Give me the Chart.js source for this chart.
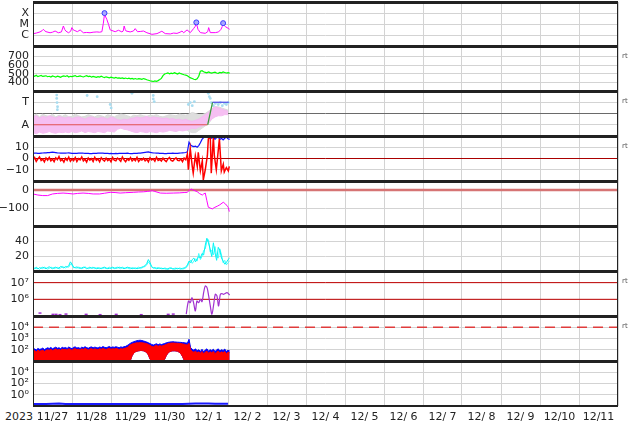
<!DOCTYPE html>
<html>
<head>
<meta charset="utf-8">
<script src="https://cdn.jsdelivr.net/npm/chart.js@4.4.0/dist/chart.umd.min.js"></script>
<style>
  body { margin: 0; width: 634px; height: 424px; position: relative; overflow: hidden; background: #fff; font-family: 'DejaVu Sans', sans-serif; }
  canvas { position: absolute; left: 0; }
  .rt { position: absolute; left: 622px; font-size: 7px; line-height: 8px; color: #555; }
  #year { position: absolute; left: 5px; top: 411px; font-size: 11px; line-height: 12px; color: #222; }
</style>
</head>
<body>
<span id="year">2023</span>
<script>
// time axis: hours since 2023-11-27 00:00 UT
const DAY_LABELS = ['11/27', '11/28', '11/29', '11/30', '12/ 1', '12/ 2', '12/ 3', '12/ 4',
  '12/ 5', '12/ 6', '12/ 7', '12/ 8', '12/ 9', '12/10', '12/11'];
const HOURS = Array.from({length: 122}, (_, i) => i);
const HOURS2 = Array.from({length: 61}, (_, i) => i * 2);

// panel 1 - x-ray flux
const XRAY_T = [0, 2, 4.3, 5.5, 6.4, 7.2, 8, 10.5, 12, 13.6,
  15.6, 17.5, 18.7, 19.5, 20.2, 21.8, 23.2, 23.9, 24.6, 25.3,
  27.3, 29, 31, 33, 35.1, 37, 39.3, 41, 42.4, 43.3,
  44, 44.4, 45.4, 46.5, 47.5, 50.6, 52.6, 54.7, 55.5, 56.1,
  56.8, 57.3, 59.8, 61.8, 62.9, 64.3, 66, 68, 70.1, 73.2,
  76.3, 79.3, 81.4, 84.5, 86.5, 88.6, 90.5, 91.7, 92.7, 94.8,
  96.8, 98.8, 99.8, 100.5, 101.5, 103, 106, 107.5, 108.1, 109.1,
  112.2, 114.2, 115.7, 116.5, 117, 118.4, 120.4, 121];
const XRAY_V = [1.3e-6, 1.5e-6, 1.9e-6, 2.4e-6, 3.3e-6, 2.4e-6, 2.0e-6, 1.6e-6, 1.8e-6, 2.3e-6,
  1.6e-6, 1.9e-6, 6.6e-6, 3.2e-6, 2.3e-6, 1.6e-6, 2.2e-6, 4.7e-6, 3.1e-6, 2.7e-6,
  2.0e-6, 2.9e-6, 1.6e-6, 1.7e-6, 1.6e-6, 1.8e-6, 1.9e-6, 1.8e-6, 2.0e-6, 1.2e-5,
  8.0e-5, 5.5e-5, 2.7e-5, 9e-6, 2.9e-6, 2.0e-6, 2.7e-6, 1.9e-6, 2.3e-6, 6.6e-6,
  3.0e-6, 2.3e-6, 1.9e-6, 2.3e-6, 3.8e-6, 2.0e-6, 2.1e-6, 2.3e-6, 1.6e-6, 1.15e-6,
  1.33e-6, 2.2e-6, 1.33e-6, 1.25e-6, 1.5e-6, 1.4e-6, 1.8e-6, 2.3e-6, 1.6e-6, 2.9e-6,
  1.64e-6, 3.8e-6, 6e-6, 1.3e-5, 3.3e-6, 1.64e-6, 1.42e-6, 2.0e-6, 4.7e-6, 1.64e-6,
  1.64e-6, 1.9e-6, 3.3e-6, 6e-6, 9.3e-6, 5.7e-6, 3.8e-6, 3.3e-6];
const FLARE_T = [44, 100.5, 117];
const FLARE_V = [9.8e-5, 1.4e-5, 1.2e-5];

// panel 2 - solar wind speed (hourly)
const WIND = [478, 470, 482, 466, 474, 480, 468, 472, 476, 465,
  470, 462, 474, 468, 460, 471, 466, 458, 470, 474,
  468, 476, 462, 470, 466, 472, 478, 465, 470, 474,
  468, 462, 470, 476, 466, 472, 460, 468, 464, 458,
  466, 460, 470, 462, 456, 464, 458, 452, 460, 454,
  450, 456, 448, 452, 446, 452, 444, 450, 442, 448,
  440, 446, 438, 444, 436, 442, 440, 434, 444, 438,
  430, 424, 418, 414, 410, 416, 412, 420, 432, 446,
  478, 496, 502, 510, 498, 506, 500, 512, 504, 496,
  508, 500, 494, 488, 484, 476, 462, 452, 444, 436,
  432, 440, 470, 528, 534, 522, 516, 510, 520, 512,
  506, 514, 518, 508, 504, 516, 510, 520, 514, 508,
  512, 506];

// panel 3 - A / T levels (2-hourly envelopes, A = 1, T = 3)
const PINK_HI = [1.7, 1.8, 1.6, 1.75, 1.65, 1.8, 1.7, 1.6, 1.75, 1.65,
  1.6, 1.7, 1.55, 1.65, 1.7, 1.6, 1.5, 1.65, 1.7, 1.6,
  1.55, 1.65, 1.6, 1.5, 1.7, 1.6, 1.45, 1.4, 1.5, 1.45,
  1.55, 1.6, 1.7, 1.6, 1.65, 1.75, 1.6, 1.7, 1.65, 1.6,
  1.55, 1.6, 1.5, 1.55, 1.45, 1.5, 1.4, 1.5, 1.35, 1.3,
  1.4, 1.5, 1.7, 1.9, 2.1, 2.4, 2.6, 2.5, 2.4, 2.3, 2.2];
const PINK_LO = [0.3, 0.2, 0.35, 0.25, 0.3, 0.4, 0.3, 0.25, 0.35, 0.3,
  0.35, 0.3, 0.4, 0.3, 0.35, 0.45, 0.3, 0.4, 0.35, 0.3,
  0.4, 0.35, 0.3, 0.45, 0.4, 0.35, 0.6, 0.7, 0.6, 0.55,
  0.45, 0.35, 0.3, 0.4, 0.35, 0.3, 0.4, 0.35, 0.3, 0.4,
  0.35, 0.4, 0.5, 0.45, 0.4, 0.5, 0.45, 0.5, 0.6, 0.7,
  0.65, 0.8, 0.9, 1.0, 1.2, 1.5, 1.7, 1.8, 1.8, 1.9, 1.9];
const GRAY_HI = [1.8, 1.95, 1.7, 1.95, 1.8, 1.75, 1.95, 1.7, 1.85, 1.75,
  1.9, 1.7, 1.75, 1.95, 1.8, 1.7, 1.75, 1.9, 1.8, 1.7,
  1.85, 1.8, 1.7, 1.9, 1.8, 1.7, 1.85, 1.95, 1.9, 1.8,
  1.7, 1.85, 1.8, 1.9, 1.8, 1.75, 1.85, 1.8, 1.9, 1.75,
  1.7, 1.8, 1.9, 1.85, 1.8, 1.95, 1.9, 1.85, 1.95, 2.1,
  2.0, 1.9, 1.9, 2.0, 2.2, 2.4, 2.6, 2.6, 2.5, 2.4, 2.3];
const GRAY_LO = [0.5, 0.45, 0.6, 0.5, 0.55, 0.6, 0.5, 0.45, 0.55, 0.5,
  0.55, 0.5, 0.6, 0.5, 0.45, 0.55, 0.5, 0.6, 0.5, 0.55,
  0.5, 0.55, 0.5, 0.6, 0.55, 0.5, 0.7, 0.8, 0.7, 0.6,
  0.55, 0.5, 0.6, 0.5, 0.55, 0.5, 0.6, 0.5, 0.55, 0.5,
  0.5, 0.55, 0.6, 0.5, 0.55, 0.6, 0.5, 0.6, 0.4, 0.3,
  0.3, 0.5, 0.7, 0.9, 1.1, 1.5, 1.8, 1.9, 1.9, 2.0, 2.0];
const LBLUE_T = [14.6, 14.6, 14.8, 15.1, 15.0, 33.3, 39.5, 47.5, 48.1, 60.9,
  74.0, 74.0, 74.6, 95.6, 96.8, 98.0, 99.3, 107.9, 108.5, 109.1,
  109.7, 111.0, 112.2, 114.0, 115.3, 116.5, 117.8, 119.0, 120.2];
const LBLUE_V = [3.64, 3.34, 2.97, 2.6, 2.34, 3.6, 3.5, 2.8, 2.5, 3.8,
  3.6, 3.3, 3.06, 2.8, 2.97, 2.7, 3.06, 3.8, 3.5, 3.34,
  2.97, 2.7, 2.9, 2.8, 2.97, 2.7, 2.9, 2.8, 2.97];
const ALERT_T = [0, 107.5, 110.5, 120.5];
const ALERT_V = [1, 1, 3, 3];

// panel 4 - IMF Bt / Bz
const BT = [4.6, 4.7, 4.8, 4.6, 4.5, 4.7, 4.9, 5.0, 5.0, 5.2,
  5.3, 5.5, 5.6, 5.4, 5.2, 5.0, 4.9, 4.8, 4.7, 4.7,
  4.8, 4.9, 5.0, 4.8, 4.6, 4.6, 4.5, 4.5, 4.7, 4.8,
  4.9, 4.7, 4.6, 4.6, 4.5, 4.4, 4.4, 4.5, 4.5, 4.6,
  4.7, 4.7, 4.8, 4.7, 4.6, 4.6, 4.5, 4.4, 4.5, 4.3,
  4.4, 4.5, 4.4, 4.5, 4.6, 4.6, 4.5, 4.6, 4.7, 4.5,
  4.4, 4.4, 4.5, 4.6, 4.6, 4.8, 4.8, 5.0, 5.2, 5.4,
  5.6, 5.8, 5.5, 5.2, 5.0, 4.9, 4.8, 4.7, 4.6, 4.5,
  4.5, 4.4, 4.4, 4.5, 4.6, 4.6, 4.7, 4.6, 4.5, 4.6,
  4.8, 4.9, 5.0, 5.1, 5.3, 6.0, 14.5, 12.0, 11.0, 10.5,
  11.0, 10.0, 11.5, 14.0, 17.0, 18.5, 19.5, 20.5, 21, 19,
  18, 19.5, 17, 18.5, 19, 17, 18, 16.5, 18, 19,
  17.5, 17];
const BZ_STORM_T = [95, 95.6, 96.8, 98, 98.6, 99.9, 101.1, 101.7, 103, 104.2,
  104.8, 106, 107.3, 107.9, 109.1, 109.7, 111, 111.6, 112.8, 114.1,
  114.7, 115.9, 117.1, 117.7, 119, 120.2, 120.8];
const BZ_T = HOURS.slice(0, 95).concat(BZ_STORM_T);
const BZ = [-1.2, 0.8, -2.5, -0.3, 1.5, -1.8, -0.6, -3.0, 0.4, -1.4,
  1.0, -2.2, -0.5, -2.8, 0.6, -1.0, 1.8, -2.0, -0.8, -3.2,
  0.2, -1.6, 1.2, -2.4, -0.4, -1.9, 0.9, -2.7, -0.2, -1.3,
  1.4, -2.1, -0.7, -3.1, 0.5, -1.5, -0.1, -2.6, 1.1, -1.7,
  -0.4, -2.9, 0.7, -1.1, -2.3, 0.3, -1.8, -0.6, -3.0, 0.9,
  -1.4, -2.0, 0.4, -0.9, -2.5, 1.3, -1.2, -2.8, -0.3, -1.6,
  0.8, -2.2, -0.5, -1.9, 1.0, -2.6, -0.8, -1.4, 0.2, -2.1,
  -0.6, -2.9, 0.6, -1.3, -0.2, -2.4, 1.1, -1.7, -0.9, -2.3,
  0.3, -1.5, -2.7, -0.4, 0.9, -1.8, -2.4, -0.7, 0.5, -1.6,
  -2.0, -0.5, -2.8, 0.4, -1.2,
  4, -10, 8.5, -7, -13, 2.5, -7, 5.5, -11, -2,
  -19, -10, 2.5, 17.5, 19, -13, 19, 2.5, -10, 8.5,
  17.5, -11, -5, -12, -8, -11, -7];

// panel 5 - Dst
const DST_T = [0, 3, 6, 9, 12, 15, 18.5, 21.5, 24.7, 27.5,
  30.8, 34, 37, 41, 44, 47.5, 50.5, 53.6, 57, 61.7,
  65, 68, 70.3, 72, 73.4, 75, 78.3, 82, 86.3, 90,
  93, 95, 96, 97.4, 99, 101, 102.5, 104.2, 105, 106,
  107, 107.9, 109, 110.4, 111.5, 113.4, 115, 117.1, 118.5, 119.6,
  120.2, 120.8];
const DST = [-22, -28, -31, -31, -22, -19, -17, -19, -22, -19,
  -17, -19, -22, -22, -18, -13, -14, -17, -15, -13,
  -11, -10, -8, -6, -4, -8, -17, -18, -17, -16,
  -14, -13, -2, 5, -2, -9, -20, -28, -22, -17,
  -60, -96, -100, -105, -98, -90, -82, -68, -78, -90,
  -98, -120];

// panel 6 - two cyan series (hourly)
const CYAN_A = [5, 4, 6, 3.5, 5.5, 4.5, 6, 5, 4, 5.5,
  6.5, 5, 4, 5.5, 6, 4.5, 5, 7, 6, 5,
  7, 6, 8, 13, 10, 6, 5, 6.5, 5, 4.5,
  5, 6, 5.5, 4, 5, 6, 4.5, 5, 5.5, 4,
  4.5, 5, 4, 5.5, 6, 5, 4, 4.5, 5, 6,
  5, 4.5, 5, 6, 5.5, 5, 4, 5, 6, 5.5,
  5, 4, 4.5, 5, 4, 4.5, 5.5, 6, 7, 8,
  11, 16, 12, 7, 5, 5.5, 4, 4.5, 5, 4,
  4.5, 4, 3.5, 4, 5, 4.5, 4, 3.5, 4, 4.5,
  4, 3.5, 4.5, 5, 6, 9, 14, 12, 16, 18,
  13, 17, 20, 18, 24, 22, 35, 44, 38, 30,
  20, 38, 25, 15, 32, 28, 18, 14, 10, 12,
  16, 18];
const CYAN_B = [3.5, 5, 4, 5, 3, 5.5, 4, 6, 5, 3.5,
  4.5, 6, 5.5, 4, 5, 6, 3.5, 5, 7, 6,
  5, 7, 6, 10, 9, 5, 6, 4.5, 6, 5.5,
  4, 5, 6.5, 5, 4, 4.5, 5.5, 6, 4, 5,
  5.5, 4, 5, 4.5, 5, 4, 5, 6, 4, 5,
  4, 5.5, 6, 4.5, 4, 6, 5, 4.5, 5, 4,
  4, 5.5, 5, 4, 5, 6, 4, 5, 6, 7,
  9, 13, 10, 6, 5, 4.5, 5, 5.5, 4, 5,
  3.5, 5, 4.5, 3, 4, 5.5, 3.5, 4.5, 5, 3.5,
  5, 4.5, 3.5, 4, 5, 7, 12, 15, 11, 14,
  17, 14, 24, 16, 20, 28, 30, 40, 42, 26,
  28, 22, 33, 20, 18, 30, 22, 12, 15, 9,
  12, 14];

// panel 7 - purple flux
const PUR_EARLY_T = [4.3, 12.3, 14.2, 16.6, 20.3, 32.7, 41.3, 51.2, 66.6, 83.2, 86.3];
const PUR_EARLY_V = [1.5e5, 1.25e5, 1.25e5, 1.2e5, 1.3e5, 1.25e5, 1.2e5, 1.25e5, 1.2e5, 1.25e5, 1.3e5];
const PUR_T = [94.3, 95.7, 96.8, 97.8, 98.8, 99.9, 100.9, 101.9, 103, 104,
  105, 106, 107.1, 108.1, 109.1, 110.1, 111.2, 112.2, 113.2, 114.2,
  115.3, 116.3, 117.3, 119.4, 121];
const PUR_V = [1.3e5, 7.9e5, 6.3e5, 1.26e6, 6.3e5, 2.0e5, 7.9e5, 6.3e5, 1.0e6, 7.2e5,
  2.5e6, 6.3e6, 5.0e6, 1.6e6, 4.0e5, 1.26e5, 5.0e5, 2.0e6, 1.6e6, 4.0e5,
  2.0e6, 2.2e6, 2.0e6, 2.5e6, 1.8e6];

// panel 8 - electron flux envelopes (hourly)
const RED_HI = [70, 85, 65, 90, 75, 80, 95, 70, 85, 100,
  90, 110, 85, 100, 120, 95, 105, 90, 115, 100,
  110, 95, 120, 105, 90, 115, 125, 100, 110, 95,
  120, 105, 130, 110, 95, 115, 125, 105, 120, 110,
  100, 125, 110, 130, 115, 105, 120, 135, 110, 125,
  115, 130, 120, 105, 125, 115, 130, 140, 160, 220,
  280, 320, 360, 390, 410, 420, 430, 420, 400, 380,
  350, 300, 250, 200, 180, 220, 250, 200, 240, 210,
  230, 260, 300, 340, 370, 390, 400, 390, 380, 370,
  360, 350, 330, 310, 280, 260, 380, 100, 70, 60,
  75, 55, 65, 50, 70, 45, 60, 75, 50, 65,
  55, 70, 45, 60, 75, 50, 65, 55, 70, 45,
  60, 55];
const BLUE_HI = [100, 120, 95, 130, 110, 115, 140, 105, 125, 150,
  130, 160, 120, 145, 170, 135, 150, 125, 165, 140,
  160, 130, 175, 145, 125, 165, 180, 140, 155, 130,
  170, 150, 185, 155, 135, 165, 180, 150, 170, 160,
  140, 175, 155, 190, 165, 150, 170, 195, 155, 180,
  165, 185, 170, 150, 180, 165, 185, 200, 240, 300,
  380, 450, 520, 580, 640, 680, 700, 660, 600, 540,
  480, 420, 350, 300, 260, 300, 340, 280, 330, 290,
  320, 360, 410, 450, 480, 500, 520, 500, 480, 470,
  460, 450, 430, 420, 400, 380, 850, 150, 110, 90,
  120, 80, 100, 70, 110, 65, 95, 120, 75, 100,
  85, 110, 70, 95, 120, 75, 100, 85, 115, 70,
  90, 80];
const FLUX_LO = [10, 10, 10, 10, 10, 10, 10, 10, 10, 10,
  10, 10, 10, 10, 10, 10, 10, 10, 10, 10,
  10, 10, 10, 10, 10, 10, 10, 10, 10, 10,
  10, 10, 10, 10, 10, 10, 10, 10, 10, 10,
  10, 10, 10, 10, 10, 10, 10, 10, 10, 10,
  10, 10, 10, 10, 10, 10, 10, 10, 10, 10,
  12, 30, 50, 65, 75, 80, 85, 85, 80, 70,
  55, 35, 15, 10, 10, 10, 10, 10, 10, 10,
  10, 14, 30, 50, 65, 75, 80, 80, 78, 72,
  60, 45, 25, 12, 10, 10, 10, 10, 10, 10,
  10, 10, 10, 10, 10, 10, 10, 10, 10, 10,
  10, 10, 10, 10, 10, 10, 10, 10, 10, 10,
  10, 10];

// panel 9 - low flux (4-hourly)
const P9_T = [0, 4, 8, 12, 16, 20, 24, 28, 32, 36, 40, 44, 48, 52, 56, 60,
  64, 68, 72, 76, 80, 84, 88, 92, 96, 100, 104, 108, 112, 116, 120];
const P9_V = [0.022, 0.023, 0.022, 0.024, 0.027, 0.023, 0.022, 0.023, 0.022, 0.022,
  0.023, 0.022, 0.023, 0.022, 0.022, 0.023, 0.022, 0.023, 0.022, 0.022,
  0.023, 0.022, 0.022, 0.023, 0.026, 0.028, 0.027, 0.029, 0.026, 0.025,
  0.024];

// thresholds
const BZ_ZERO = 0, DST_ZERO = 0, FLUX7_LEVELS = [1e6, 1e7], FLUX8_ALERT = 1e4;

const EDGES = [2, 46, 91, 136, 181, 226, 271, 316, 361, 406];
const GRID = '#d3d3d3';
const X_TICKS = Array.from({length: 31}, (_, i) => i * 12);

Chart.defaults.font.family = "'DejaVu Sans', sans-serif";
Chart.defaults.font.size = 11;
Chart.defaults.color = '#222';
Chart.defaults.animation = false;
Chart.defaults.plugins.legend.display = false;
Chart.defaults.plugins.tooltip.enabled = false;

const pts = (ts, vs) => ts.map((t, i) => ({x: t, y: vs[i]}));

const line = (ts, vs, color, width, more) => Object.assign({
  data: pts(ts, vs), borderColor: color, borderWidth: width || 1,
  pointRadius: 0, fill: false, tension: 0
}, more);

const hline = (v, color, width, dash) => ({
  data: [{x: 0, y: v}, {x: 360, y: v}], borderColor: color, borderWidth: width,
  borderDash: dash || [], pointRadius: 0, fill: false
});

const dots = (ts, vs, color, r, more) => Object.assign({
  data: pts(ts, vs), showLine: false, pointRadius: r,
  pointBackgroundColor: color, pointBorderWidth: 0
}, more);

const frame = {
  id: 'frame',
  afterDraw(chart, args, opts) {
    const {ctx, chartArea: a} = chart;
    ctx.save();
    ctx.strokeStyle = '#222';
    ctx.lineWidth = 1;
    ctx.beginPath();
    ctx.moveTo(a.left + 0.5, a.top); ctx.lineTo(a.left + 0.5, a.bottom);
    ctx.moveTo(a.right - 0.5, a.top); ctx.lineTo(a.right - 0.5, a.bottom);
    ctx.stroke();
    ctx.lineWidth = 3;
    ctx.beginPath();
    ctx.moveTo(a.left, a.top + 0.5); ctx.lineTo(a.right, a.top + 0.5);
    ctx.stroke();
    ctx.lineWidth = opts.bottomWidth;
    ctx.beginPath();
    const yb = opts.bottomWidth === 3 ? a.bottom + 0.5 : a.bottom;
    ctx.moveTo(a.left, yb); ctx.lineTo(a.right, yb);
    ctx.stroke();
    ctx.restore();
  }
};

function xScale(bottom) {
  return {
    type: 'linear', min: 0, max: 360,
    afterBuildTicks: s => { s.ticks = X_TICKS.map(v => ({value: v})); },
    afterFit: s => {
      s.height = bottom ? 18 : 0;
      s.paddingLeft = 0; s.paddingRight = 0; s.paddingTop = 0; s.paddingBottom = 0;
    },
    grid: { color: c => (c.tick && c.tick.value % 24 === 0) ? GRID : 'rgba(0,0,0,0)', drawTicks: false },
    border: { display: false },
    ticks: {
      display: bottom, autoSkip: false, maxRotation: 0, padding: 5,
      callback: v => v % 24 === 12 ? DAY_LABELS[(v - 12) / 24] : ''
    }
  };
}

function yScale(type, min, max, ticks, labels, gridColor) {
  return {
    type, min, max, bounds: 'data',
    afterBuildTicks: s => { s.ticks = ticks.map(v => ({value: v})); },
    afterFit: s => {
      s.width = 33;
      s.paddingTop = 0; s.paddingBottom = 0; s.paddingLeft = 0; s.paddingRight = 0;
    },
    grid: { color: gridColor || GRID, drawTicks: false },
    border: { display: false },
    ticks: { padding: 4, autoSkip: false, callback: (v, i) => labels[i] }
  };
}

function panel(i, y, datasets) {
  const last = i === EDGES.length - 2;
  const top = EDGES[i] - 2;
  const h = (last ? 424 : EDGES[i + 1] + 2) - top;
  const cv = document.createElement('canvas');
  cv.width = 634; cv.height = h;
  cv.style.width = '634px'; cv.style.height = h + 'px'; cv.style.top = top + 'px';
  document.body.appendChild(cv);
  new Chart(cv, {
    type: 'line',
    data: { datasets },
    options: {
      responsive: false, devicePixelRatio: 1,
      layout: { autoPadding: false, padding: { left: 0, right: 16, top: 2, bottom: last ? 0 : 2 } },
      scales: { x: xScale(last), y },
      plugins: { frame: { bottomWidth: last ? 2 : 3 } }
    },
    plugins: [frame]
  });
}

// 1: X-ray
panel(0, yScale('logarithmic', 1e-7, 1e-3, [1e-6, 1e-5, 1e-4], ['C', 'M', 'X']), [
  dots(FLARE_T, FLARE_V, '#a9a9ff', 2.5, { pointBorderWidth: 1, pointBorderColor: '#3a3aff' }),
  line(XRAY_T, XRAY_V, '#ff00ff', 1)
]);

// 2: solar wind
panel(1, yScale('linear', 300, 820, [400, 500, 600, 700], ['400', '500', '600', '700']), [
  line(HOURS, WIND, '#00ff00', 1.2)
]);

// 3: A / T
panel(2, yScale('linear', 0, 4, [1, 2, 3], ['A', '', 'T'],
  c => (c.tick && c.tick.value === 2) ? '#6a6a6a' : GRID), [
  line(ALERT_T, ALERT_V, '#e05050', 1.2, {
    segment: { borderColor: c => ['#e05050', '#3a9a3a', '#4a4ae8'][c.p0DataIndex] }
  }),
  dots(LBLUE_T, LBLUE_V, '#a8dcf0', 1.4),
  line(HOURS2, PINK_HI, '#f5b9f1', 1, { fill: '+1', backgroundColor: '#f6bff2' }),
  line(HOURS2, PINK_LO, '#f5b9f1', 1),
  line(HOURS2, GRAY_HI, '#dadada', 1, { fill: '+1', backgroundColor: '#dedede' }),
  line(HOURS2, GRAY_LO, '#dadada', 0)
]);

// 4: IMF
panel(3, yScale('linear', -20, 20, [-10, 0, 10], ['\u221210', '0', '10']), [
  line(BZ_T, BZ, '#ff0000', 1.5),
  line(HOURS, BT, '#1010ff', 1.2),
  hline(BZ_ZERO, '#aa0000', 1)
]);

// 5: Dst
panel(4, yScale('linear', -200, 50, [-100, 0], ['\u2212100', '0']), [
  line(DST_T, DST, '#ff00ff', 1),
  hline(DST_ZERO, '#d67474', 2.5)
]);

// 6: cyan
panel(5, yScale('linear', 1, 60, [20, 40], ['20', '40']), [
  line(HOURS, CYAN_A, '#00f4f4', 1),
  line(HOURS, CYAN_B, '#40ffff', 1)
]);

// 7: purple
panel(6, yScale('logarithmic', 1e5, 5e7, [1e6, 1e7], ['10\u2076', '10\u2077']), [
  line(PUR_T, PUR_V, '#a030d0', 1.2, { tension: 0.3 }),
  dots(PUR_EARLY_T, PUR_EARLY_V, '#a030d0', 1.5, { pointStyle: 'line', pointBorderWidth: 1.5, pointBorderColor: '#a030d0' }),
  hline(FLUX7_LEVELS[0], '#c00000', 1),
  hline(FLUX7_LEVELS[1], '#c00000', 1)
]);

// 8: electron flux
panel(7, yScale('logarithmic', 10, 1e5, [1e2, 1e3, 1e4], ['10\u00b2', '10\u00b3', '10\u2074']), [
  line(HOURS, RED_HI, '#ff0000', 1, { fill: '+1', backgroundColor: '#ff0000' }),
  line(HOURS, FLUX_LO, '#ff0000', 0),
  line(HOURS, BLUE_HI, '#0000ff', 1, { fill: '+1', backgroundColor: '#0000ff' }),
  line(HOURS, FLUX_LO, '#0000ff', 0),
  hline(FLUX8_ALERT, '#e03c3c', 1.5, [10, 6])
]);

// 9: low flux
panel(8, yScale('logarithmic', 1e-2, 1e6, [1, 1e2, 1e4], ['10\u2070', '10\u00b2', '10\u2074']), [
  line(P9_T, P9_V, '#1a1aff', 2)
]);

// "rt" markers on the right
[1, 2, 3, 6, 7].forEach(i => {
  const s = document.createElement('span');
  s.className = 'rt';
  s.textContent = 'rt';
  s.style.top = (EDGES[i] + 6) + 'px';
  document.body.appendChild(s);
});
</script>
</body>
</html>
